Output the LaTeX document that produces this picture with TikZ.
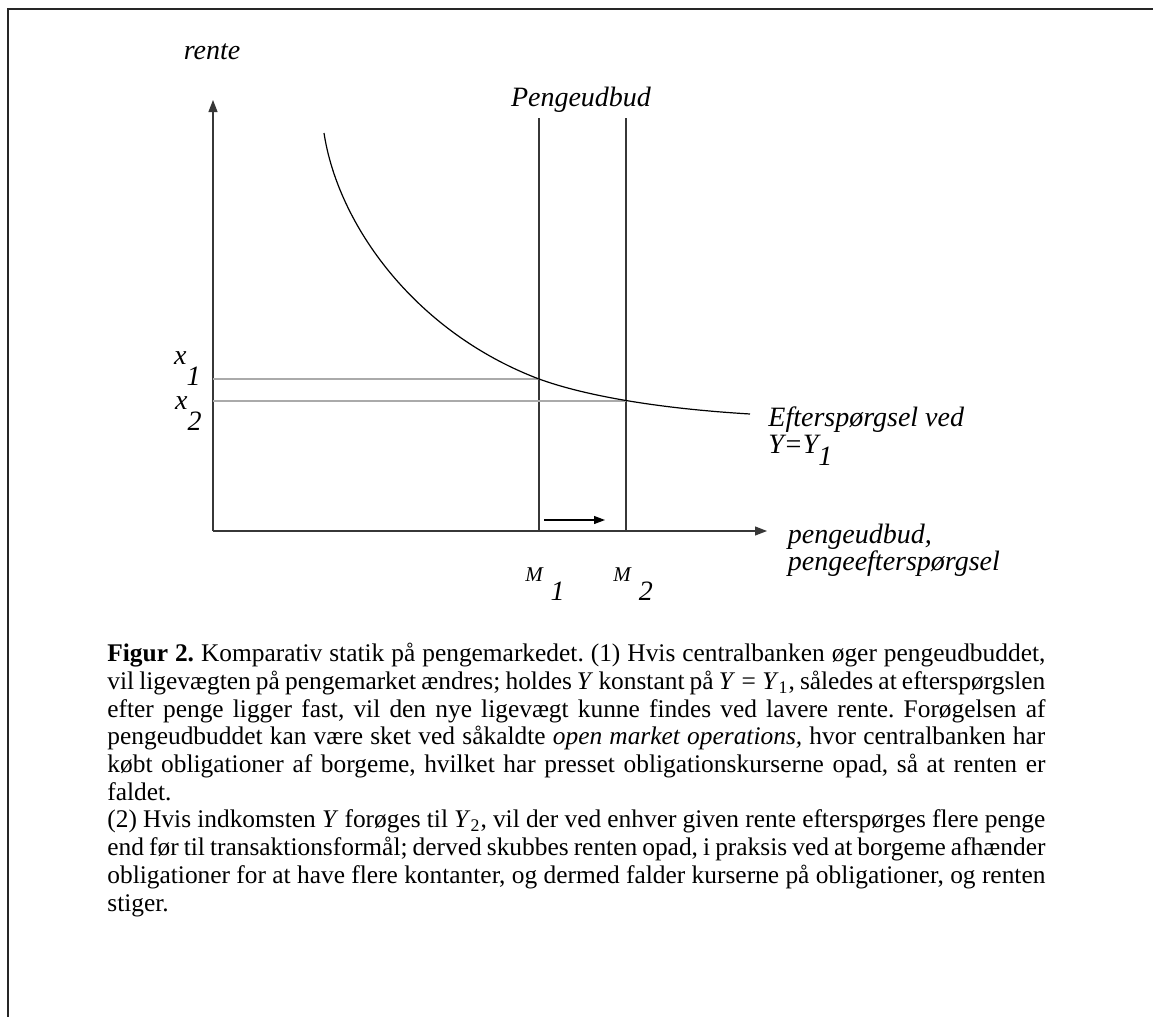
\documentclass[tikz,border=0pt]{standalone}
\usepackage{fontspec}
\setmainfont{Liberation Serif}
\usepackage{tikz}
\usetikzlibrary{arrows.meta,positioning}
\definecolor{axisgray}{RGB}{55,55,55}
\definecolor{guidegray}{RGB}{170,170,170}
\newcommand{\isub}[2]{\textit{#1}\raisebox{-0.75em}{\textit{#2}}}
\newcommand{\msub}[1]{{\fontsize{10.5}{12}\selectfont\itshape M}\hspace{4pt}\raisebox{-0.7em}{\itshape #1}}
\tikzset{
  axis/.style={-{Triangle[length=6pt,width=4.5pt]}, axisgray, line width=0.6pt},
  supply/.style={axisgray, line width=0.6pt},
  guide/.style={guidegray, line width=0.7pt},
  demand/.style={black, line width=0.6pt},
  shiftarrow/.style={-{Triangle[length=5.5pt,width=4pt]}, black, line width=0.6pt},
  lbl/.style={font=\fontsize{14}{13.5}\selectfont\itshape, inner sep=0pt, align=left},
  captext/.style={font=\fontsize{12.7}{13.85}\selectfont\frenchspacing, inner sep=0pt,
                  text width=469pt, align=justify},
}

\begin{document}
\begin{tikzpicture}[x=0.5pt, y=-0.5pt]
  \useasboundingbox (0,0) rectangle (1153,1017);
  % frame
  \draw[black!85, line width=1pt] (1153,9) -- (8,9) -- (8,1017);
  % axes
  \coordinate (O) at (213,531);
  \coordinate (ytip) at (213,100);
  \coordinate (xtip) at (767,531);
  \draw[axis] (O) -- (ytip);
  \draw[axis] (O) -- (xtip);
  \node[lbl] (rente) at (212,52) {rente};
  % money supply
  \coordinate (m1top) at (539,118);
  \coordinate (m1bot) at (539,531);
  \coordinate (m2top) at (626,118);
  \coordinate (m2bot) at (626,531);
  \draw[supply] (m1bot) -- (m1top);
  \draw[supply] (m2bot) -- (m2top);
  \node[lbl] (supplylbl) at (581,100) {Pengeudbud};
  \coordinate (a1) at (544,520);
  \coordinate (a2) at (605,520);
  \draw[shiftarrow] (a1) -- (a2);
  % interest levels
  \coordinate (e1) at (539,379);
  \coordinate (e2) at (626,401);
  \draw[guide] (O |- e1) -- (e1);
  \draw[guide] (O |- e2) -- (e2);
  \node[lbl, anchor=base east] (x1) at (201,364) {\isub{x}{1}};
  \node[lbl, anchor=base east] (x2) at (202,409) {\isub{x}{2}};
  % money demand
  \coordinate (d0) at (324,133);
  \coordinate (d1) at (750,414);
  \draw[demand] (d0) .. controls (338,225) and (415,332) .. (e1)
    .. controls (580,394) and (650,408) .. (d1);
  \node[lbl, anchor=north west] (demandlbl) at (768,406)
    {Efterspørgsel ved\\Y=Y\raisebox{-0.45em}{1}};
  \node[lbl, right=3.6mm of xtip, yshift=-9.5pt] (xlbl)
    {pengeudbud,\\pengeefterspørgsel};
  \node[lbl, anchor=base] (m1lbl) at (545,581) {\msub{1}};
  \node[lbl, anchor=base] (m2lbl) at (633,581) {\msub{2}};
  % caption
  \node[captext, anchor=north west] (cap) at (107,643) {\textbf{Figur 2.} Komparativ statik på pengemarkedet. (1) Hvis centralbanken øger pengeudbuddet,\linebreak
vil ligevægten på pengemarket ændres; holdes \textit{Y} konstant på \textit{Y}\hspace{0.25em}=\hspace{0.25em}\textit{Y}\textsubscript{1}, således at efterspørgslen\linebreak
efter penge ligger fast, vil den nye ligevægt kunne findes ved lavere rente. Forøgelsen af\linebreak
pengeudbuddet kan være sket ved såkaldte \textit{open market operations,} hvor centralbanken har\linebreak
købt obligationer af borgeme, hvilket har presset obligationskurserne opad, så at renten er\linebreak
faldet.\par
(2) Hvis indkomsten \textit{Y} forøges til \textit{Y}\textsubscript{2}, vil der ved enhver given rente efterspørges flere penge\linebreak
end før til transaktionsformål; derved skubbes renten opad, i praksis ved at borgeme afhænder\linebreak
obligationer for at have flere kontanter, og dermed falder kurserne på obligationer, og renten\linebreak
stiger.};
\end{tikzpicture}
\end{document}
